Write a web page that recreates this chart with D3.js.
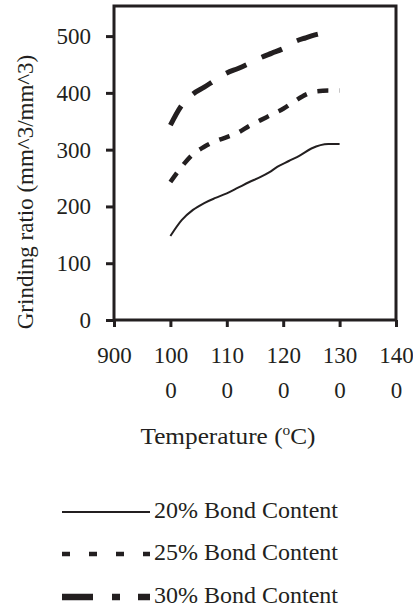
<!DOCTYPE html>
<html>
<head>
<meta charset="utf-8">
<script src="https://cdn.jsdelivr.net/npm/d3@7"></script>
<style>
  body { margin: 0; background: #fff; }
  svg text { font-family: "Liberation Serif", "Times New Roman", serif; fill: #231f20; }
</style>
</head>
<body>
<div id="chart"></div>
<script>
// temperatures (°C) and grinding ratio
const temps20 = [1000, 1020, 1040, 1060, 1080, 1100, 1120, 1140, 1160, 1175, 1190, 1210, 1230, 1250, 1280, 1300];
const ratio20 = [148, 176, 194, 206, 215, 223, 233, 243, 252, 260, 270, 280, 290, 302, 310, 310];

const temps25 = [1000, 1020, 1040, 1060, 1080, 1100, 1120, 1140, 1160, 1180, 1200, 1220, 1240, 1260, 1280, 1300];
const ratio25 = [243, 270, 292, 305, 315, 322, 330, 342, 352, 362, 372, 385, 397, 403, 404, 404];

const temps30 = [1000, 1010, 1020, 1030, 1040, 1060, 1080, 1100, 1120, 1140, 1160, 1180, 1200, 1220, 1240, 1260, 1280, 1290];
const ratio30 = [343, 362, 378, 389, 398, 410, 423, 435, 443, 452, 462, 470, 478, 490, 497, 503, 507, 510];

const seriesNames = ['20% Bond Content', '25% Bond Content', '30% Bond Content'];
const xTicks = [900, 1000, 1100, 1200, 1300, 1400];
const yTicks = [0, 100, 200, 300, 400, 500];

const W = 413, H = 610;
const svg = d3.select('#chart').append('svg').attr('width', W).attr('height', H);

const x = d3.scaleLinear().domain([900, 1400]).range([114, 396]);
const y = d3.scaleLinear().domain([0, 553]).range([320, 6]);

// frame
svg.append('rect')
  .attr('x', x(900)).attr('y', y(553))
  .attr('width', x(1400) - x(900)).attr('height', y(0) - y(553))
  .attr('fill', 'none').attr('stroke', '#231f20').attr('stroke-width', 3);

const yAxis = svg.append('g')
  .attr('transform', `translate(${x(900)},0)`)
  .call(d3.axisLeft(y).tickValues(yTicks).tickSize(8).tickPadding(15).tickFormat(d3.format('d')));
yAxis.select('.domain').remove();
yAxis.selectAll('line').attr('stroke', '#231f20').attr('stroke-width', 3);
yAxis.selectAll('text').attr('font-size', 23).attr('font-family', 'Liberation Serif').attr('fill', '#231f20');

const xAxis = svg.append('g')
  .attr('transform', `translate(0,${y(0)})`)
  .call(d3.axisBottom(x).tickValues(xTicks).tickSize(7).tickFormat(''));
xAxis.select('.domain').remove();
xAxis.selectAll('line').attr('stroke', '#231f20').attr('stroke-width', 3);

// two-line tick labels like the original (wrapped)
xAxis.selectAll('.tick').each(function(d) {
  const s = String(d);
  const t = d3.select(this).append('text')
    .attr('text-anchor', 'middle').attr('font-size', 23);
  t.append('tspan').attr('x', 0).attr('y', 43).text(s.slice(0, 3));
  if (s.length > 3) t.append('tspan').attr('x', 0).attr('y', 78).text(s.slice(3));
});

// axis titles
const xt = svg.append('text').attr('transform', 'translate(228,444) scale(1.1,1)')
  .attr('text-anchor', 'middle').attr('font-size', 23);
xt.append('tspan').text('Temperature (');
xt.append('tspan').attr('font-size', 14).attr('dy', -9).text('o');
xt.append('tspan').attr('dy', 9).text('C)');

svg.append('text')
  .attr('transform', 'translate(33,192) rotate(-90)')
  .attr('text-anchor', 'middle').attr('font-size', 23)
  .text('Grinding ratio (mm^3/mm^3)');

// lines
const styles = [
  { w: 2, dash: null },
  { w: 4.5, dash: '11,11' },
  { w: 5, dash: '22,17' }
];
const series = [
  temps20.map((t, i) => [t, ratio20[i]]),
  temps25.map((t, i) => [t, ratio25[i]]),
  temps30.map((t, i) => [t, ratio30[i]])
];
const line = d3.line().x(d => x(d[0])).y(d => y(d[1])).curve(d3.curveMonotoneX);

svg.selectAll('.series')
  .data(series)
  .join('path')
  .attr('class', 'series')
  .attr('d', line)
  .attr('fill', 'none')
  .attr('stroke', '#231f20')
  .attr('stroke-width', (d, i) => styles[i].w)
  .attr('stroke-dasharray', (d, i) => styles[i].dash);

// legend
const legDash = [null, '8,19', '31,19,8,18'];
const legW = [2, 4.5, 6.5];
const legY = [512, 554, 597];
const leg = svg.selectAll('.leg').data(seriesNames).join('g').attr('class', 'leg')
  .attr('transform', (d, i) => `translate(0,${legY[i]})`);
leg.append('line')
  .attr('x1', 62).attr('x2', 150)
  .attr('stroke', '#231f20')
  .attr('stroke-width', (d, i) => legW[i])
  .attr('stroke-dasharray', (d, i) => legDash[i]);
leg.append('text')
  .attr('x', 154).attr('y', 6).attr('font-size', 24)
  .text(d => d);
</script>
</body>
</html>
